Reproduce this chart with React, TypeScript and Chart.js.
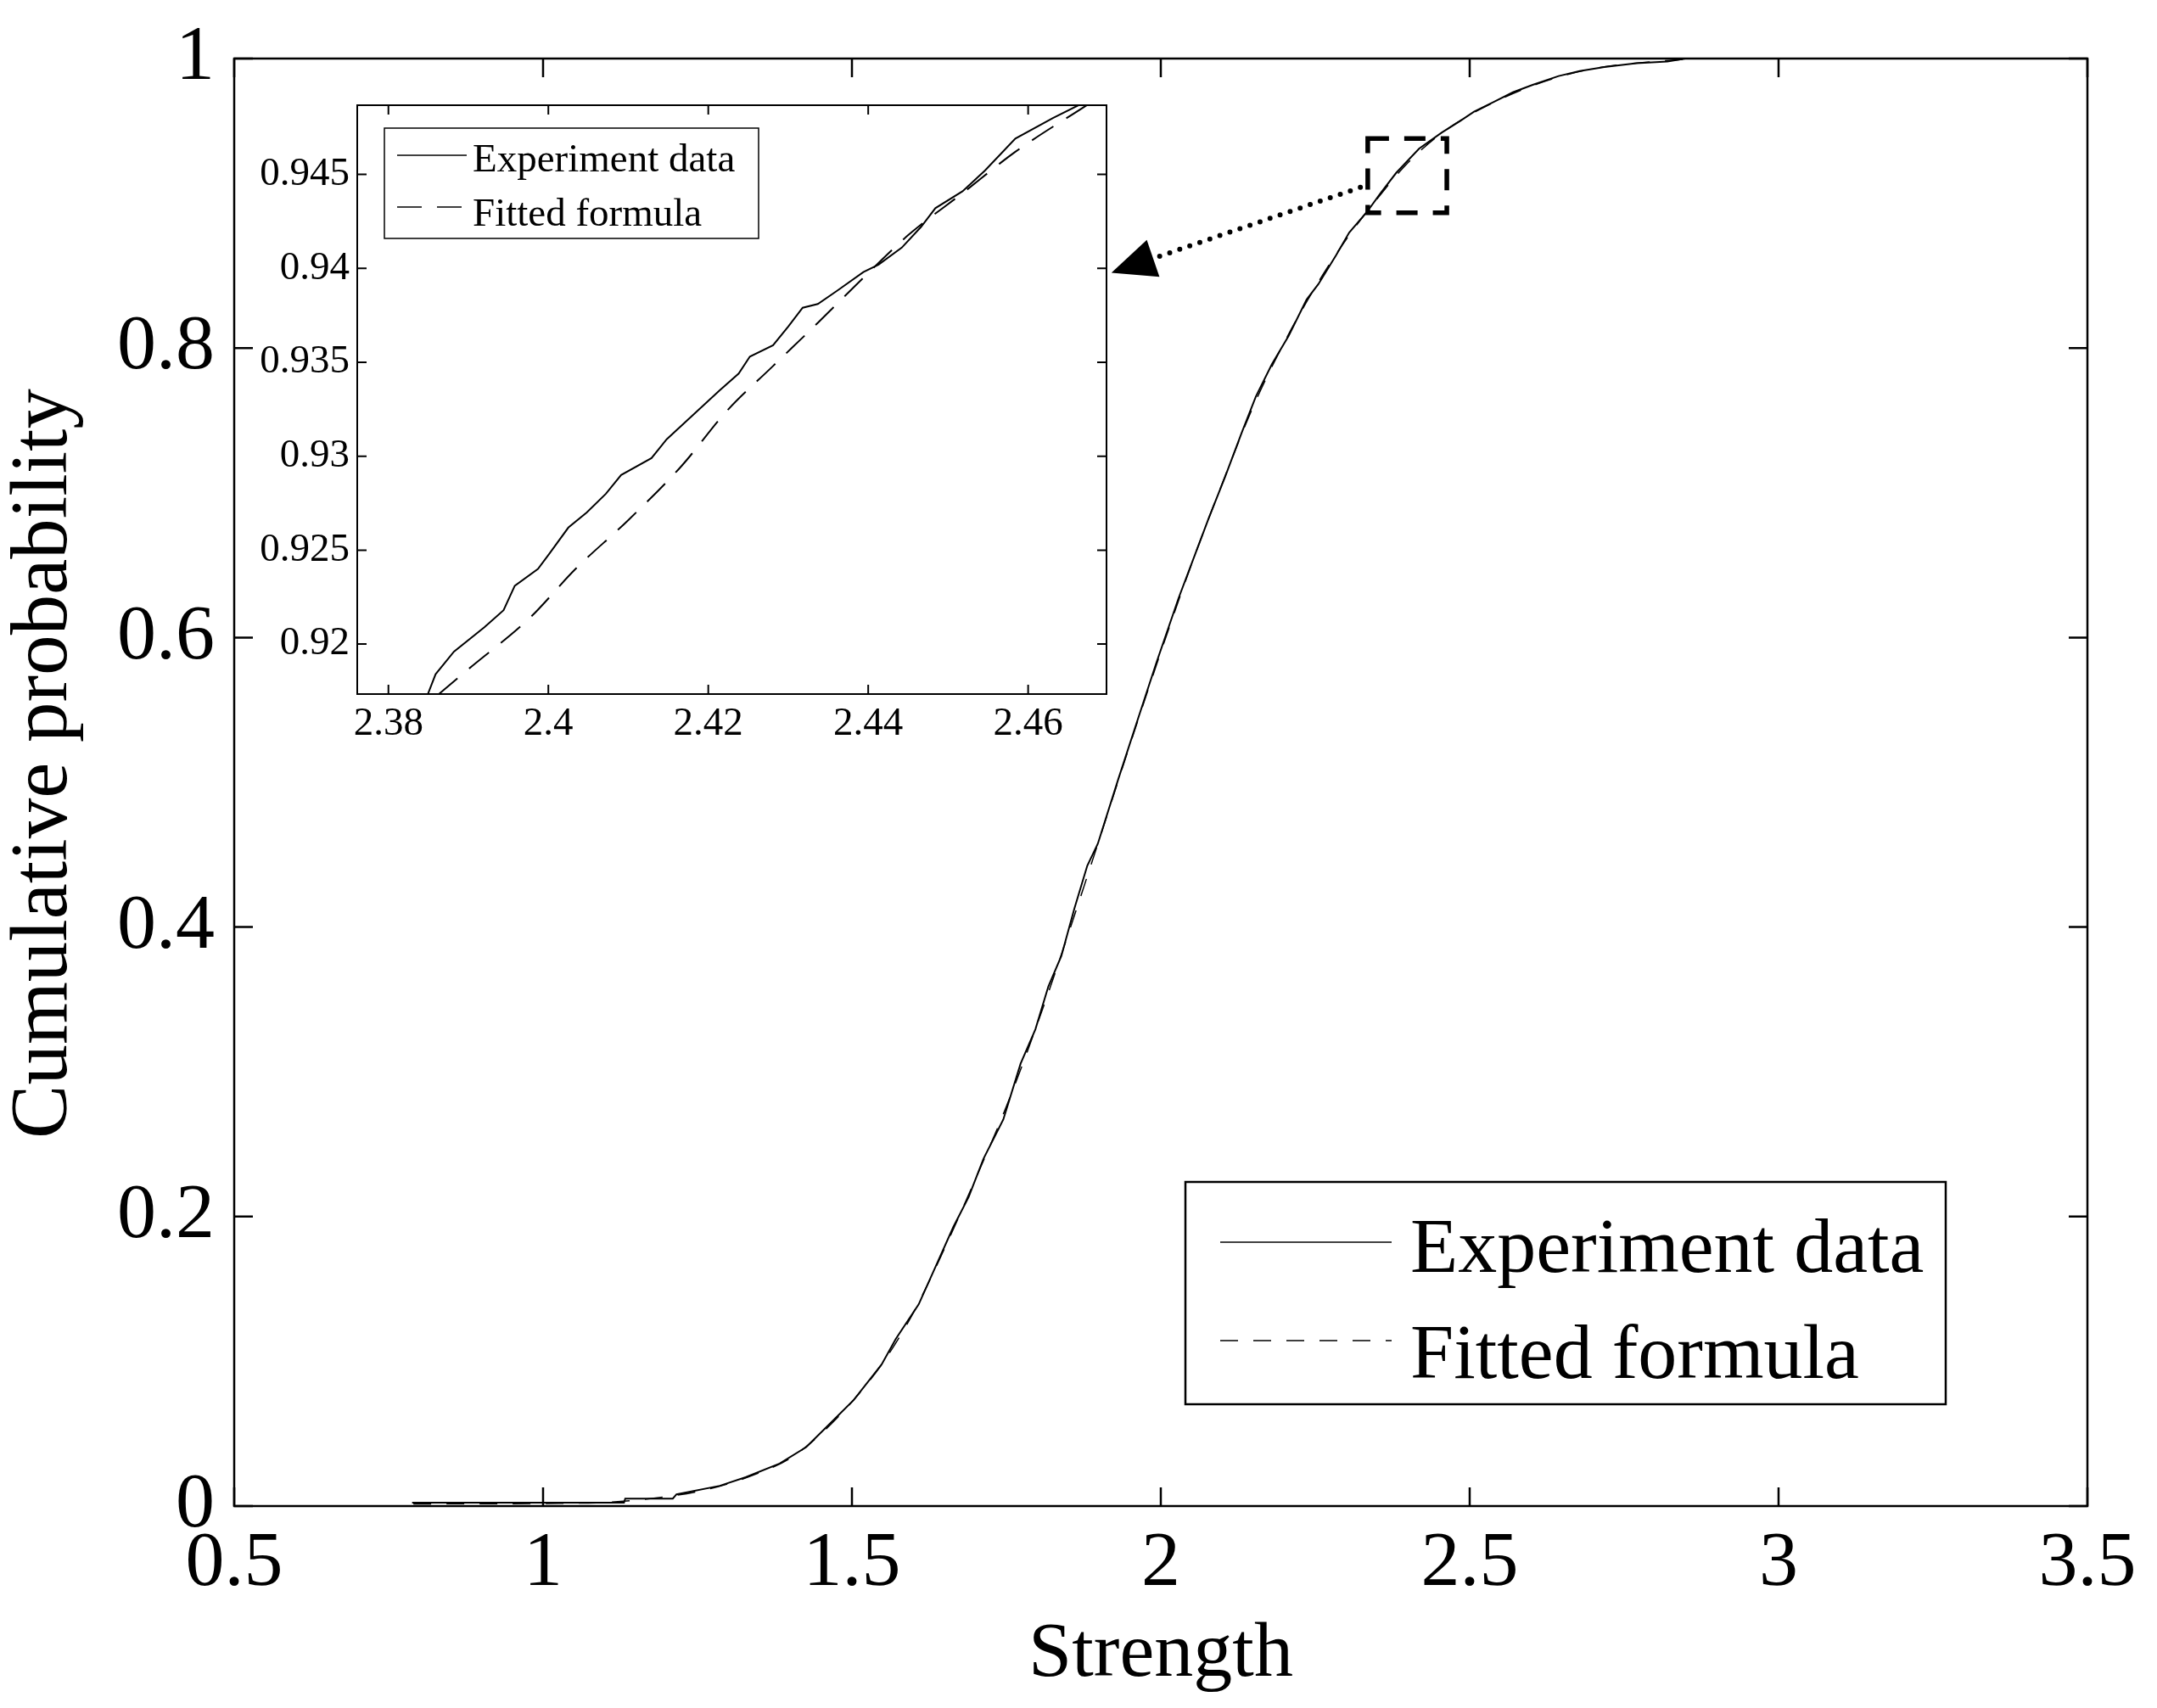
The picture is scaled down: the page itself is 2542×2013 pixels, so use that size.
import React, { useEffect, useRef } from 'react';
import { Chart, registerables } from 'chart.js';

Chart.register(...registerables);

const FONT = '"Liberation Serif", "Times New Roman", serif';

// ---- main plot data ----
const xTicks = [0.5, 1, 1.5, 2, 2.5, 3, 3.5];
const yTicks = [0, 0.2, 0.4, 0.6, 0.8, 1];

const expStrength = [
  0.788, 1.131, 1.133, 1.21, 1.216, 1.286, 1.328, 1.383, 1.426, 1.468,
  1.503, 1.548, 1.571, 1.608, 1.636, 1.664, 1.689, 1.713, 1.745, 1.773,
  1.797, 1.818, 1.839, 1.86, 1.881, 1.898, 1.931, 1.963, 1.993, 2.029,
  2.056, 2.078, 2.104, 2.131, 2.154, 2.18, 2.207, 2.236, 2.255, 2.284,
  2.305, 2.334, 2.355, 2.381, 2.418, 2.455, 2.484, 2.507, 2.539, 2.57,
  2.602, 2.644, 2.678, 2.718, 2.77, 2.82, 2.849,
];
const expProb = [
  0.0023, 0.0023, 0.0052, 0.0052, 0.0081, 0.014, 0.0199, 0.0294, 0.0407, 0.0585,
  0.0733, 0.0978, 0.1155, 0.1393, 0.166, 0.1927, 0.2136, 0.24, 0.267, 0.3056,
  0.3294, 0.359, 0.38, 0.4127, 0.4424, 0.4575, 0.502, 0.5438, 0.5828, 0.6275,
  0.658, 0.683, 0.711, 0.7416, 0.7666, 0.789, 0.8085, 0.8335, 0.8441, 0.8643,
  0.8798, 0.8942, 0.9066, 0.921, 0.9377, 0.9489, 0.9567, 0.9633, 0.97, 0.9767,
  0.9818, 0.9879, 0.9913, 0.9941, 0.9968, 0.998, 1.0,
];

const fitStrength = [
  0.79, 0.9, 1.0, 1.1, 1.2, 1.25, 1.3, 1.35, 1.4, 1.45,
  1.5, 1.55, 1.6, 1.65, 1.7, 1.75, 1.8, 1.85, 1.9, 1.95,
  2.0, 2.05, 2.1, 2.15, 2.2, 2.25, 2.3, 2.35, 2.4, 2.45,
  2.5, 2.55, 2.6, 2.65, 2.7, 2.75, 2.8, 2.85,
];
const fitProb = [
  0.0015, 0.0016, 0.0018, 0.0025, 0.0065, 0.01, 0.0155, 0.023, 0.033, 0.05,
  0.072, 0.099, 0.134, 0.178, 0.226, 0.276, 0.333, 0.395, 0.46, 0.526,
  0.59, 0.651, 0.707, 0.76, 0.804, 0.842, 0.875, 0.903, 0.928, 0.947,
  0.961, 0.972, 0.981, 0.988, 0.993, 0.996, 0.998, 0.9995,
];

// zoom box and arrow, in main data units
const zoomBox = { x0: 2.335, x1: 2.463, y0: 0.8935, y1: 0.9447 };
const arrowFrom = { x: 2.323, y: 0.911 };
const arrowTo = { x: 1.92, y: 0.852 };

// ---- inset data ----
const insetXTicks = [2.38, 2.4, 2.42, 2.44, 2.46];
const insetYTicks = [0.92, 0.925, 0.93, 0.935, 0.94, 0.945];

const insetExpStrength = [
  2.3849, 2.3859, 2.3882, 2.392, 2.3944, 2.3958, 2.3987, 2.4001, 2.4025, 2.4048,
  2.4072, 2.4091, 2.4129, 2.4148, 2.4181, 2.4214, 2.4238, 2.4252, 2.4281, 2.43,
  2.4318, 2.4337, 2.4361, 2.4394, 2.4413, 2.4442, 2.4466, 2.4484, 2.4518, 2.4546,
  2.4584, 2.4631, 2.4664,
];
const insetExpProb = [
  0.9173, 0.9184, 0.9196, 0.9209, 0.9218, 0.9231, 0.924, 0.9248, 0.9262, 0.927,
  0.928, 0.929, 0.9299, 0.9309, 0.9322, 0.9335, 0.9344, 0.9353, 0.9359, 0.9369,
  0.9379, 0.9381, 0.9388, 0.9398, 0.9402, 0.9411, 0.9422, 0.9432, 0.9441, 0.9452,
  0.9469, 0.948, 0.9487,
];
const insetFitStrength = [
  2.3862, 2.3901, 2.3977, 2.4034, 2.41, 2.4167, 2.4223, 2.4281, 2.4337, 2.4394,
  2.4451, 2.4518, 2.4584, 2.4674,
];
const insetFitProb = [
  0.9173, 0.9187, 0.9214, 0.924, 0.9266, 0.9295, 0.9324, 0.9348, 0.9371, 0.9395,
  0.9418, 0.944, 0.9462, 0.9487,
];

const LABEL_EXP = 'Experiment data';
const LABEL_FIT = 'Fitted formula';
const Y_TITLE = 'Cumulative probability';

const toPoints = (xs: number[], ys: number[]) => xs.map((x, i) => ({ x, y: ys[i] }));

// frame with inward ticks on all four sides
const frameTicks = (len: number, width: number) => ({
  id: 'frameTicks',
  beforeDraw(chart: any) {
    const { ctx, chartArea: a } = chart;
    ctx.save();
    ctx.fillStyle = '#fff';
    ctx.fillRect(a.left, a.top, a.right - a.left, a.bottom - a.top);
    ctx.restore();
  },
  afterDraw(chart: any) {
    const { ctx, chartArea: a, scales } = chart;
    ctx.save();
    ctx.strokeStyle = '#000';
    ctx.lineWidth = width;
    ctx.beginPath();
    scales.x.ticks.forEach((t: any) => {
      const px = scales.x.getPixelForValue(t.value);
      ctx.moveTo(px, a.bottom);
      ctx.lineTo(px, a.bottom - len);
      ctx.moveTo(px, a.top);
      ctx.lineTo(px, a.top + len);
    });
    scales.y.ticks.forEach((t: any) => {
      const py = scales.y.getPixelForValue(t.value);
      ctx.moveTo(a.left, py);
      ctx.lineTo(a.left + len, py);
      ctx.moveTo(a.right, py);
      ctx.lineTo(a.right - len, py);
    });
    ctx.stroke();
    ctx.strokeRect(a.left, a.top, a.right - a.left, a.bottom - a.top);
    ctx.restore();
  },
});

interface LegendBox {
  left: number; top: number; right: number; bottom: number;
  lineX0: number; lineX1: number; textX: number;
  rows: { lineY: number; baseline: number }[];
  fontSize: number; boxWidth: number; sampleWidth: number; dash: number[];
}

const boxLegend = (cfg: LegendBox) => ({
  id: 'boxLegend',
  afterDraw(chart: any) {
    const { ctx } = chart;
    ctx.save();
    ctx.fillStyle = '#fff';
    ctx.fillRect(cfg.left, cfg.top, cfg.right - cfg.left, cfg.bottom - cfg.top);
    ctx.strokeStyle = '#000';
    ctx.lineWidth = cfg.boxWidth;
    ctx.strokeRect(cfg.left, cfg.top, cfg.right - cfg.left, cfg.bottom - cfg.top);
    ctx.font = `${cfg.fontSize}px ${FONT}`;
    ctx.textBaseline = 'alphabetic';
    ctx.fillStyle = '#000';
    chart.data.datasets.forEach((ds: any, i: number) => {
      const row = cfg.rows[i];
      ctx.lineWidth = cfg.sampleWidth;
      ctx.setLineDash(ds.borderDash && ds.borderDash.length ? cfg.dash : []);
      ctx.beginPath();
      ctx.moveTo(cfg.lineX0, row.lineY);
      ctx.lineTo(cfg.lineX1, row.lineY);
      ctx.stroke();
      ctx.setLineDash([]);
      ctx.fillText(ds.label, cfg.textX, row.baseline);
    });
    ctx.restore();
  },
});

// y title sits a little above the axis centre, so it is drawn here
const yTitle = {
  id: 'yTitle',
  afterDraw(chart: any) {
    const { ctx, chartArea: a } = chart;
    ctx.save();
    ctx.translate(53, (a.top + a.bottom) / 2 - 22);
    ctx.rotate(-Math.PI / 2);
    ctx.font = `95px ${FONT}`;
    ctx.fillStyle = '#000';
    ctx.textAlign = 'center';
    ctx.textBaseline = 'middle';
    ctx.fillText(Y_TITLE, 0, 0);
    ctx.restore();
  },
};

const zoomMarks = {
  id: 'zoomMarks',
  afterDatasetsDraw(chart: any) {
    const { ctx, scales } = chart;
    const x = scales.x;
    const y = scales.y;
    ctx.save();
    ctx.strokeStyle = '#000';
    // dashed zoom rectangle
    const rx0 = x.getPixelForValue(zoomBox.x0);
    const rx1 = x.getPixelForValue(zoomBox.x1);
    const ry0 = y.getPixelForValue(zoomBox.y1);
    const ry1 = y.getPixelForValue(zoomBox.y0);
    ctx.lineWidth = 5.5;
    ctx.setLineDash([25, 18]);
    ctx.strokeRect(rx0, ry0, rx1 - rx0, ry1 - ry0);
    // dotted arrow
    const p0 = { x: x.getPixelForValue(arrowFrom.x), y: y.getPixelForValue(arrowFrom.y) };
    const p1 = { x: x.getPixelForValue(arrowTo.x), y: y.getPixelForValue(arrowTo.y) };
    const dx = p1.x - p0.x;
    const dy = p1.y - p0.y;
    const len = Math.hypot(dx, dy);
    const ux = dx / len;
    const uy = dy / len;
    const head = 52;
    const half = 23;
    const bx = p1.x - ux * head;
    const by = p1.y - uy * head;
    ctx.lineWidth = 6;
    ctx.lineCap = 'round';
    ctx.setLineDash([0, 12.5]);
    ctx.beginPath();
    ctx.moveTo(p0.x, p0.y);
    ctx.lineTo(bx, by);
    ctx.stroke();
    ctx.setLineDash([]);
    ctx.fillStyle = '#000';
    ctx.beginPath();
    ctx.moveTo(p1.x, p1.y);
    ctx.lineTo(bx - uy * half, by + ux * half);
    ctx.lineTo(bx + uy * half, by - ux * half);
    ctx.closePath();
    ctx.fill();
    ctx.restore();
  },
};

const MainChart: React.FC = () => {
  const canvasRef = useRef<HTMLCanvasElement>(null);
  const chartRef = useRef<Chart | null>(null);

  useEffect(() => {
    if (!canvasRef.current) return;
    if (chartRef.current) chartRef.current.destroy();
    const ctx = canvasRef.current.getContext('2d');
    if (!ctx) return;

    const tickFont = { family: FONT, size: 92, lineHeight: 1 };

    chartRef.current = new Chart(ctx, {
      type: 'scatter',
      data: {
        datasets: [
          {
            label: LABEL_EXP,
            data: toPoints(expStrength, expProb),
            showLine: true,
            borderColor: '#000',
            borderWidth: 2,
            pointRadius: 0,
            tension: 0,
          },
          {
            label: LABEL_FIT,
            data: toPoints(fitStrength, fitProb),
            showLine: true,
            borderColor: '#000',
            borderWidth: 1.5,
            borderDash: [21, 18],
            pointRadius: 0,
            cubicInterpolationMode: 'monotone',
          },
        ],
      },
      options: {
        responsive: false,
        animation: false,
        devicePixelRatio: 1,
        layout: { padding: { left: 0, top: 57, right: 82, bottom: 0 } },
        plugins: { legend: { display: false }, tooltip: { enabled: false } },
        scales: {
          x: {
            type: 'linear',
            min: 0.5,
            max: 3.5,
            afterBuildTicks: (s: any) => { s.ticks = xTicks.map((v) => ({ value: v })); },
            afterFit: (s: any) => { s.height = 238; },
            grid: { display: false, drawTicks: false },
            border: { display: false },
            ticks: {
              font: tickFont, color: '#000', padding: 23, maxRotation: 0, autoSkip: false,
              callback: (v: any) => String(v),
            },
            title: {
              display: true, text: 'Strength', color: '#000', padding: { top: 0, bottom: 7 },
              font: { family: FONT, size: 92, lineHeight: 1.2 },
            },
          },
          y: {
            type: 'linear',
            min: 0,
            max: 1,
            afterBuildTicks: (s: any) => { s.ticks = yTicks.map((v) => ({ value: v })); },
            afterFit: (s: any) => { s.width = 276; },
            grid: { display: false, drawTicks: false },
            border: { display: false },
            ticks: {
              font: tickFont, color: '#000', padding: 23, autoSkip: false,
              callback: (v: any) => String(v),
            },
            title: { display: false },
          },
        },
      },
      plugins: [
        frameTicks(22, 2.5),
        zoomMarks,
        yTitle,
        boxLegend({
          left: 1397, top: 1393, right: 2293, bottom: 1655,
          lineX0: 1438, lineX1: 1640, textX: 1662,
          rows: [{ lineY: 1464, baseline: 1499 }, { lineY: 1580, baseline: 1624 }],
          fontSize: 92, boxWidth: 2.5, sampleWidth: 1.5, dash: [21, 18],
        }),
      ],
    } as any);

    return () => {
      if (chartRef.current) {
        chartRef.current.destroy();
        chartRef.current = null;
      }
    };
  }, []);

  return (
    <canvas
      ref={canvasRef}
      width={2542}
      height={2013}
      style={{ position: 'absolute', left: 0, top: 0, width: 2542, height: 2013 }}
    />
  );
};

// inset canvas sits at (300, 90) on the page
const InsetChart: React.FC = () => {
  const canvasRef = useRef<HTMLCanvasElement>(null);
  const chartRef = useRef<Chart | null>(null);

  useEffect(() => {
    if (!canvasRef.current) return;
    if (chartRef.current) chartRef.current.destroy();
    const ctx = canvasRef.current.getContext('2d');
    if (!ctx) return;

    const tickFont = { family: FONT, size: 47, lineHeight: 1 };

    chartRef.current = new Chart(ctx, {
      type: 'scatter',
      data: {
        datasets: [
          {
            label: LABEL_EXP,
            data: toPoints(insetExpStrength, insetExpProb),
            showLine: true,
            borderColor: '#000',
            borderWidth: 2,
            pointRadius: 0,
            tension: 0,
          },
          {
            label: LABEL_FIT,
            data: toPoints(insetFitStrength, insetFitProb),
            showLine: true,
            borderColor: '#000',
            borderWidth: 2,
            borderDash: [30, 18],
            pointRadius: 0,
            cubicInterpolationMode: 'monotone',
          },
        ],
      },
      options: {
        responsive: false,
        animation: false,
        devicePixelRatio: 1,
        layout: { padding: { left: 0, top: 34, right: 36, bottom: 0 } },
        plugins: { legend: { display: false }, tooltip: { enabled: false } },
        scales: {
          x: {
            type: 'linear',
            min: 2.3761,
            max: 2.4698,
            afterBuildTicks: (s: any) => { s.ticks = insetXTicks.map((v) => ({ value: v })); },
            afterFit: (s: any) => { s.height = 72; },
            grid: { display: false, drawTicks: false },
            border: { display: false },
            ticks: {
              font: tickFont, color: '#000', padding: 12, maxRotation: 0, autoSkip: false,
              callback: (v: any) => String(v),
            },
          },
          y: {
            type: 'linear',
            min: 0.91734,
            max: 0.94868,
            afterBuildTicks: (s: any) => { s.ticks = insetYTicks.map((v) => ({ value: v })); },
            afterFit: (s: any) => { s.width = 121; },
            grid: { display: false, drawTicks: false },
            border: { display: false },
            ticks: {
              font: tickFont, color: '#000', padding: 9, autoSkip: false,
              callback: (v: any) => String(v),
            },
          },
        },
      },
      plugins: [
        frameTicks(11, 2),
        boxLegend({
          left: 153, top: 61, right: 594, bottom: 191,
          lineX0: 168, lineX1: 250, textX: 257,
          rows: [{ lineY: 93, baseline: 112 }, { lineY: 154, baseline: 176 }],
          fontSize: 47, boxWidth: 1.5, sampleWidth: 1.5, dash: [29, 18],
        }),
      ],
    } as any);

    return () => {
      if (chartRef.current) {
        chartRef.current.destroy();
        chartRef.current = null;
      }
    };
  }, []);

  return (
    <canvas
      ref={canvasRef}
      width={1040}
      height={800}
      style={{ position: 'absolute', left: 300, top: 90, width: 1040, height: 800 }}
    />
  );
};

export default function App() {
  return (
    <div
      style={{
        position: 'absolute', left: 0, top: 0, width: 2542, height: 2013,
        background: '#fff', overflow: 'hidden',
      }}
    >
      <MainChart />
      <InsetChart />
    </div>
  );
}
